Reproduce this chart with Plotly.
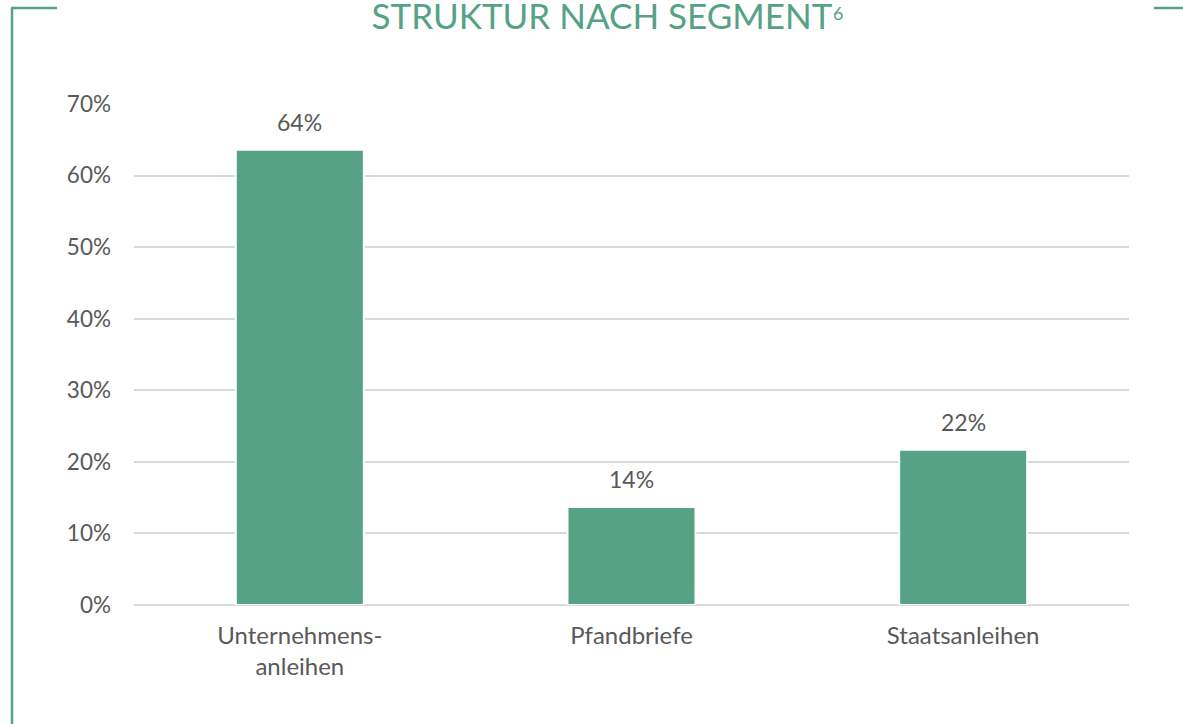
import plotly.graph_objects as go

categories = ["Unternehmens-<br>anleihen", "Pfandbriefe", "Staatsanleihen"]
shares = [0.636, 0.137, 0.217]
y_ticks = [0, 0.1, 0.2, 0.3, 0.4, 0.5, 0.6, 0.7]

W, H = 1183, 724
ML, MR, MT, MB = 134, 54, 104, 119
GREEN = "#55a285"
GRAY = "#595959"

def px_to_paper_x(px):
    return (px - ML) / (W - ML - MR)

def px_to_paper_y(py):
    return (H - MB - py) / (H - MT - MB)

fig = go.Figure()
fig.add_trace(go.Bar(
    x=categories, y=shares,
    marker=dict(color=GREEN, line=dict(color="white", width=2)),
    hovertemplate="%{y:.0%}<extra></extra>",
))

# value labels above bars, derived from the data
for c, v in zip(categories, shares):
    fig.add_annotation(x=c, y=v, text=f"{v:.0%}", showarrow=False,
                       yanchor="middle", yshift=28,
                       font=dict(family="Lato", size=23, color=GRAY))

# title superscript
fig.add_annotation(xref="paper", yref="paper", x=px_to_paper_x(831), y=px_to_paper_y(0),
                   xanchor="left", yanchor="top", text="6", showarrow=False,
                   font=dict(family="Lato", size=18, color=GREEN))

frame = dict(type="line", xref="paper", yref="paper", line=dict(color=GREEN, width=2.5))
shapes = [
    dict(frame, x0=px_to_paper_x(12), x1=px_to_paper_x(12), y0=px_to_paper_y(8), y1=px_to_paper_y(730)),
    dict(frame, x0=px_to_paper_x(11), x1=px_to_paper_x(57), y0=px_to_paper_y(8), y1=px_to_paper_y(8)),
    dict(frame, x0=px_to_paper_x(1154), x1=px_to_paper_x(1190), y0=px_to_paper_y(8), y1=px_to_paper_y(8)),
]

fig.update_layout(
    width=W, height=H,
    margin=dict(l=ML, r=MR, t=MT, b=MB),
    paper_bgcolor="white", plot_bgcolor="white",
    font=dict(family="Lato", color=GRAY),
    showlegend=False,
    bargap=0.614,
    shapes=shapes,
    title=dict(text="STRUKTUR NACH SEGMENT", x=602 / W, xanchor="center",
               y=1 - 29 / H, yanchor="bottom", yref="container",
               font=dict(family="Lato", size=35, color=GREEN)),
    xaxis=dict(showline=False, showgrid=False, ticks="",
               tickfont=dict(family="Lato", size=24, color=GRAY),
               ticklabelstandoff=14),
    yaxis=dict(range=[0, 0.7], tickvals=y_ticks, tickformat=".0%",
               showgrid=True, gridcolor="#d9d9d9", gridwidth=1.5,
               zeroline=True, zerolinecolor="#d9d9d9", zerolinewidth=1.5,
               showline=False, ticks="",
               tickfont=dict(family="Lato", size=22.5, color=GRAY),
               ticklabelstandoff=22),
)

fig.write_html("out.html", config={"displayModeBar": False},
               post_script="document.body.style.margin='0';document.body.style.overflow='hidden';")
